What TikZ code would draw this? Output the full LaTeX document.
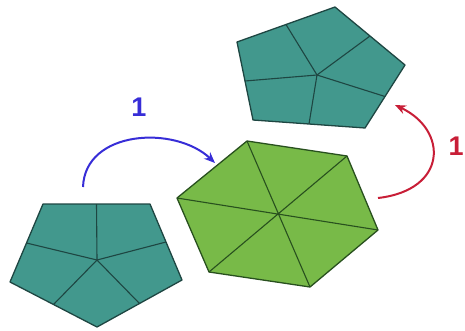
\documentclass[tikz,border=0pt]{standalone}
\usepackage{fontspec}
\setmainfont{Liberation Sans}
\usetikzlibrary{arrows.meta,calc}
\definecolor{teal1}{RGB}{66,152,141}
\definecolor{tealedge}{RGB}{30,70,66}
\definecolor{green1}{RGB}{120,186,72}
\definecolor{greenedge}{RGB}{40,80,30}
\definecolor{blue1}{RGB}{55,45,215}
\definecolor{red1}{RGB}{200,30,55}
\tikzset{
  pent/.style={fill=teal1,draw=tealedge,line width=1.3pt,line join=round},
  pentline/.style={draw=tealedge,line width=1.1pt},
  hexa/.style={fill=green1,draw=greenedge,line width=1.3pt,line join=round},
  hexline/.style={draw=greenedge,line width=1.1pt},
  movearrow/.style={line width=2pt,-{Stealth[length=11pt,width=9pt]}},
  lbl/.style={font=\fontsize{27}{27}\selectfont\bfseries,inner sep=0pt}
}
\begin{document}
\begin{tikzpicture}[x=1pt,y=-1pt]
\useasboundingbox (0,0) rectangle (465,330);
% bottom-left pentagon
\coordinate (a1) at (43,204);
\coordinate (a2) at (150,204);
\coordinate (a3) at (182,280);
\coordinate (a4) at (97,327);
\coordinate (a5) at (10,282);
\coordinate (ac) at (97,260);
\draw[pent] (a1)--(a2)--(a3)--(a4)--(a5)--cycle;
\foreach \p/\q in {a1/a2,a2/a3,a3/a4,a4/a5,a5/a1}
  \draw[pentline] (ac) -- ($(\p)!0.5!(\q)$);
% hexagon
\coordinate (h1) at (247,141);
\coordinate (h2) at (347,156);
\coordinate (h3) at (378,230);
\coordinate (h4) at (310,287);
\coordinate (h5) at (209,272);
\coordinate (h6) at (177,198);
\draw[hexa] (h1)--(h2)--(h3)--(h4)--(h5)--(h6)--cycle;
\draw[hexline] (h1)--(h4) (h2)--(h5) (h3)--(h6);
% top-right pentagon
\coordinate (b1) at (237,42);
\coordinate (b2) at (335,7);
\coordinate (b3) at (405,65);
\coordinate (b4) at (365,128);
\coordinate (b5) at (253,120);
\coordinate (bc) at (317,75);
\draw[pent] (b1)--(b2)--(b3)--(b4)--(b5)--cycle;
\foreach \p/\q in {b1/b2,b2/b3,b3/b4,b4/b5,b5/b1}
  \draw[pentline] (bc) -- ($(\p)!0.5!(\q)$);
% arrows
\coordinate (bs) at (83,187);
\coordinate (be) at (215,163);
\draw[movearrow,blue1] (bs) .. controls (85,130) and (175,125) .. (be);
\node[lbl,text=blue1] (l1) at (139,107) {1};
\coordinate (rs) at (378,198);
\coordinate (re) at (395,105);
\draw[movearrow,red1] (rs) .. controls (448,190) and (448,130) .. (re);
\node[lbl,text=red1] (l2) at (456,146) {1};
\end{tikzpicture}
\end{document}
